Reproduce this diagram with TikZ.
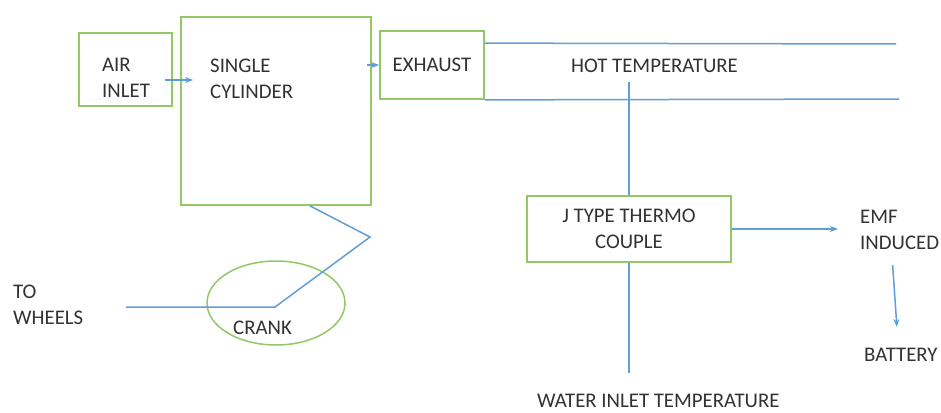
\documentclass[tikz,border=0pt]{standalone}
\usepackage{fontspec}
\setmainfont{Carlito}
\usepackage{tikz}
\usetikzlibrary{arrows.meta,shapes,calc}
\definecolor{boxgreen}{RGB}{146,200,102}
\definecolor{flowblue}{RGB}{96,158,218}
\definecolor{labelgray}{RGB}{50,50,50}
\tikzset{
 unit box/.style={draw=boxgreen, line width=1.8pt, inner sep=0pt, text=labelgray, align=center},
 label text/.style={anchor=north west, inner sep=0pt, align=left, text=labelgray},
 flow/.style={draw=flowblue, line width=1.5pt},
 flow arrow/.style={flow, -{Stealth[length=8pt,width=6pt]}}
}

\begin{document}
\begin{tikzpicture}[x=1pt, y=-1pt, font=\fontsize{20.8}{26}\selectfont]
 \useasboundingbox (0,0) rectangle (941,412);
%
 \node[unit box, minimum width=93pt, minimum height=73pt] (inlet) at (125.5,69.5) {};
 \node[unit box, minimum width=190pt, minimum height=188pt] (cyl) at (276,111) {};
 \node[unit box, minimum width=104pt, minimum height=68pt] (exhaust) at (432,65) {EXHAUST};
 \node[unit box, minimum width=204pt, minimum height=66pt] (tc) at (629,229) {J TYPE THERMO\\COUPLE};
 \node[draw=boxgreen, line width=1.5pt, ellipse, minimum width=138pt, minimum height=84pt] (crank) at (276,303) {};
%
 \node[label text] (inletlbl) at (102,58) {AIR\\INLET};
 \node[label text] (cyllbl) at (210,59) {SINGLE\\CYLINDER};
 \node[label text] (hot) at (571,59) {HOT TEMPERATURE};
 \node[label text] (wheels) at (13,285) {TO\\WHEELS};
 \node[label text] (cranklbl) at (233,321) {CRANK};
 \node[label text] (emf) at (860,210) {EMF\\INDUCED};
 \node[label text] (battery) at (864,348) {BATTERY};
 \node[label text] (water) at (537,394) {WATER INLET TEMPERATURE};
%
 \coordinate (hotA) at (896,44);
 \coordinate (hotB) at (899,99);
 \coordinate (elbow) at (370,237);
 \coordinate (crankpin) at (275,307);
 \coordinate (shaft) at (126,307);
%
 \draw[flow arrow] ($(inlet.east)+(-8,10.5)$) -- ($(inlet.east -| cyl.west)+(13,10.5)$);
 \draw[flow arrow] ($(exhaust.west -| cyl.east)+(-5,0)$) -- (exhaust.west);
 \draw[flow] ($(exhaust.north east)+(0,13)$) -- (hotA);
 \draw[flow] (exhaust.south east) -- (hotB);
%
 \draw[flow] ($(cyl.south)+(34,0)$) -- (elbow) -- (crankpin) -- (shaft);
%
 \draw[flow, shorten <=8.5pt] (tc.north |- hot.south) -- (tc.north);
 \draw[flow, shorten >=21pt] (tc.south) -- (tc.south |- water.north);
 \draw[flow arrow, shorten >=22pt] (tc.east) -- (tc.east -| emf.west);
 \draw[flow arrow] ($(emf.south)+(-7,15)$) -- ($(battery.north)+(-4,-21)$);
\end{tikzpicture}
\end{document}
